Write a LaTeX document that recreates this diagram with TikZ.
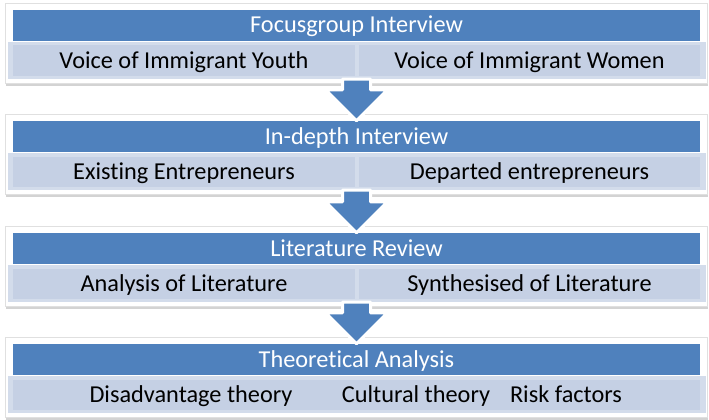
\documentclass[tikz,border=0pt]{standalone}
\usepackage{fontspec}
\setmainfont{Carlito}[Ligatures=NoCommon]
\usetikzlibrary{shadows,calc}
\definecolor{hdrblue}{RGB}{79,129,189}
\definecolor{rowframe}{RGB}{211,220,235}
\definecolor{rowcell}{RGB}{197,208,228}
\begin{document}
\begin{tikzpicture}[x=1pt,y=-1pt,
  panel/.style={draw=black!12, fill=white, minimum width=702pt, minimum height=80pt,
    inner sep=0pt, drop shadow={shadow xshift=1pt, shadow yshift=-2.5pt, opacity=0.35}},
  header/.style={fill=hdrblue, minimum width=687pt, minimum height=31pt, inner sep=0pt,
    text=white, text height=18pt, text depth=3pt, font=\fontsize{24.3}{27}\selectfont},
  subrow/.style={fill=rowframe, minimum width=698pt, minimum height=37pt, inner sep=0pt},
  cellbox/.style={fill=rowcell, minimum height=30pt, inner sep=0pt},
  itemtext/.style={text=black, inner sep=0pt, text height=18pt, text depth=3pt,
    font=\fontsize{24.3}{27}\selectfont},
  blockarrow/.style={fill=hdrblue, draw=white, line width=3pt, line join=round}
]
\useasboundingbox (0,0) rectangle (709,420);

% Stage 1
\node[panel]  (g1) at (356,43) {};
\node[header] (h1) at (356.5,25.5) {Focusgroup Interview};
\node[subrow] (r1) at (356.5,60.5) {};
\node[cellbox, minimum width=342pt] (c1a) at (184,60.5) {};
\node[cellbox, minimum width=341pt] (c1b) at (529.5,60.5) {};
\node[itemtext] (t1a) at (c1a) {Voice of Immigrant Youth};
\node[itemtext] (t1b) at (c1b) {Voice of Immigrant Women};

% Stage 2
\node[panel]  (g2) at (356,154) {};
\node[header] (h2) at (356.5,136.5) {In-depth Interview};
\node[subrow] (r2) at (356.5,171.5) {};
\node[cellbox, minimum width=342pt] (c2a) at (184,171.5) {};
\node[cellbox, minimum width=341pt] (c2b) at (529.5,171.5) {};
\node[itemtext] (t2a) at (c2a) {Existing Entrepreneurs};
\node[itemtext] (t2b) at (c2b) {Departed entrepreneurs};

% Stage 3
\node[panel]  (g3) at (356,266) {};
\node[header] (h3) at (356.5,248.5) {Literature Review};
\node[subrow] (r3) at (356.5,283.5) {};
\node[cellbox, minimum width=342pt] (c3a) at (184,283.5) {};
\node[cellbox, minimum width=341pt] (c3b) at (529.5,283.5) {};
\node[itemtext] (t3a) at (c3a) {Analysis of Literature};
\node[itemtext] (t3b) at (c3b) {Synthesised of Literature};

% Stage 4
\node[panel]  (g4) at (356,377) {};
\node[header] (h4) at (356.5,359.5) {Theoretical Analysis};
\node[subrow] (r4) at (356.5,394.5) {};
\node[cellbox, minimum width=687pt] (c4) at (356.5,394.5) {};
\node[itemtext] (t4a) at (191,394.5) {Disadvantage theory};
\node[itemtext] (t4b) at (416,394.5) {Cultural theory};
\node[itemtext] (t4c) at (566,394.5) {Risk factors};

% Block arrows linking one stage to the next
\newcommand\stagearrow[2]{%
  \draw[blockarrow] ($(#1.south)+(-14,0)$) -- ($(#2.north)+(-14,-31)$)
    -- ($(#2.north)+(-31,-31)$) -- (#2.north) -- ($(#2.north)+(31,-31)$)
    -- ($(#2.north)+(14,-31)$) -- ($(#1.south)+(14,0)$) -- cycle;}
\stagearrow{r1}{h2}
\stagearrow{r2}{h3}
\stagearrow{r3}{h4}
\end{tikzpicture}
\end{document}
